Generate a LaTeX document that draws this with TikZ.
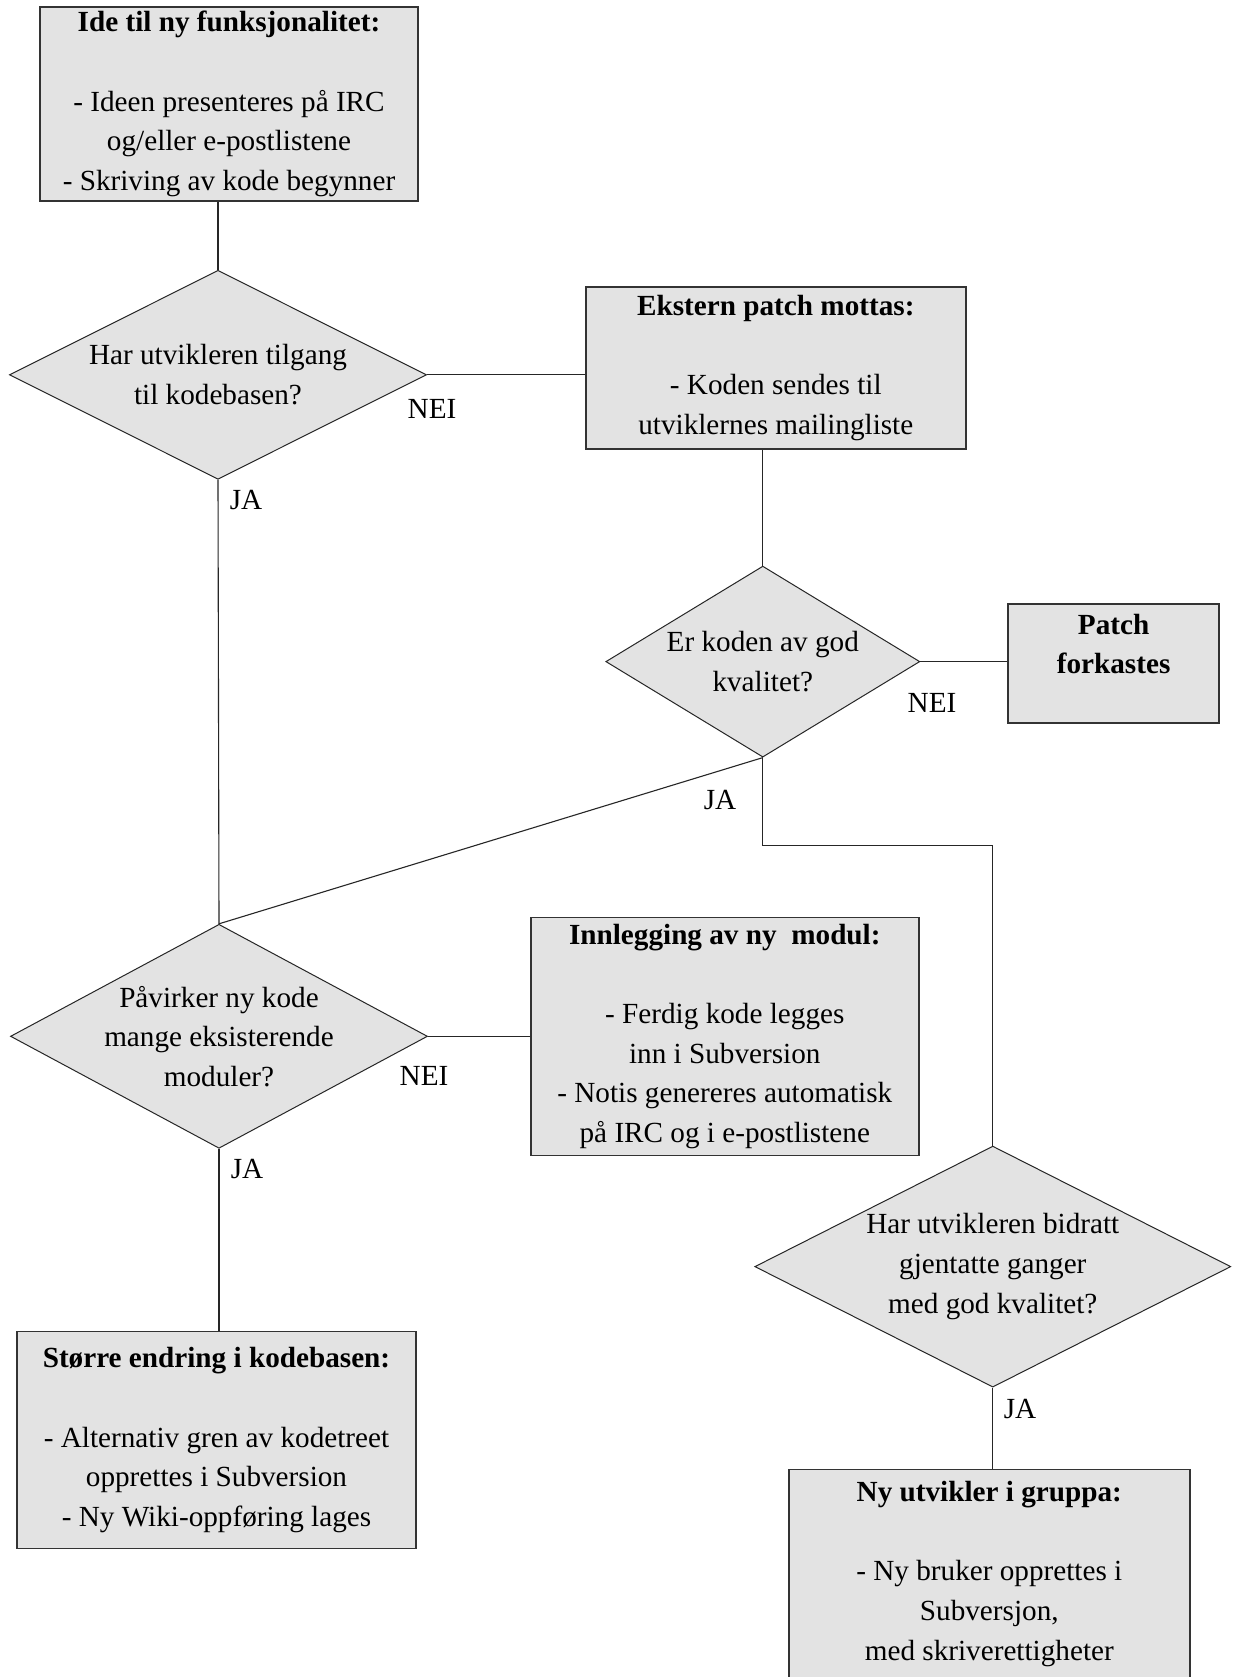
\documentclass[tikz,border=0pt]{standalone}
\usepackage{fontspec}
\setmainfont{Liberation Serif}
\usepackage{xcolor}
\usepackage{tikz}
\usetikzlibrary{shapes.geometric, positioning}

\begin{document}
\begin{tikzpicture}[x=0.5pt, y=-0.5pt,
    font=\fontsize{14.6}{19.8}\selectfont,
    boks/.style={rectangle, draw=black!80, line width=0.8pt, fill=black!11, inner sep=0pt, align=center},
    valg/.style={diamond, draw=black!85, line width=0.5pt, fill=black!11, inner sep=-2pt, align=center},
    svar/.style={inner sep=0pt},
    linje/.style={draw=black!85, line width=0.55pt}]
\useasboundingbox[fill=white] (0,0) rectangle (1233,1677);
% Bokser og valg
\node[boks, minimum width=189pt, minimum height=97pt] (ide) at (229,104)
  {\textbf{Ide til ny funksjonalitet:}\\[20pt] - Ideen presenteres på IRC\\ og/eller e-postlistene\\ - Skriving av kode begynner};
\node[valg, aspect=2, minimum width=208.5pt, minimum height=104.5pt, below=34pt of ide, xshift=-5.5pt] (tilgang)
  {Har utvikleren tilgang\\ til kodebasen?};
\node[boks, minimum width=190pt, minimum height=81pt, right=79pt of tilgang, yshift=3.5pt] (ekstern)
  {\textbf{Ekstern patch mottas:}\\[20pt] - Koden sendes til\\ utviklernes mailingliste};
\node[valg, aspect=1.64, minimum width=157pt, minimum height=95.5pt, below=58pt of ekstern, xshift=-6.5pt] (kvalitet)
  {Er koden av god\\ kvalitet?};
\node[boks, minimum width=105.5pt, minimum height=59.5pt, right=43.5pt of kvalitet, yshift=-1pt] (forkast)
  {\textbf{Patch}\\ \textbf{forkastes}\\ \mbox{}};
\node[valg, aspect=1.86, minimum width=208.5pt, minimum height=112pt, below=222pt of tilgang, xshift=0.5pt] (pavirker)
  {Påvirker ny kode\\ mange eksisterende\\ moduler?};
\node[boks, minimum width=194pt, minimum height=119pt, right=51pt of pavirker] (innlegg)
  {\textbf{Innlegging av ny~~modul:}\\[20pt] - Ferdig kode legges\\ inn i Subversion\\ - Notis genereres automatisk\\ på IRC og i e-postlistene};
\node[boks, minimum width=199.5pt, minimum height=108.5pt, below=91pt of pavirker, xshift=-1.25pt] (storre)
  {\textbf{Større endring i kodebasen:}\\[20pt] - Alternativ gren av kodetreet\\ opprettes i Subversion\\ - Ny Wiki-oppføring lages};
\node[valg, aspect=1.975, minimum width=238pt, minimum height=120.5pt, below=194pt of kvalitet, xshift=115pt] (bidratt)
  {Har utvikleren bidratt\\ gjentatte ganger\\ med god kvalitet?};
\node[boks, minimum width=200.5pt, minimum height=121pt, below=40.5pt of bidratt, xshift=-1.75pt] (nyutv)
  {\textbf{Ny utvikler i gruppa:}\\[20pt] - Ny bruker opprettes i\\ Subversjon,\\ med skriverettigheter\\ \mbox{}};
% Svar
\node[svar] (nei1) at (432,409) {NEI};
\node[svar] (ja1) at (246,500) {JA};
\node[svar] (nei2) at (932,703) {NEI};
\node[svar] (ja2) at (720,800) {JA};
\node[svar] (nei3) at (424,1076) {NEI};
\node[svar] (ja3) at (247,1169) {JA};
\node[svar] (ja4) at (1020,1409) {JA};
% Linjer
\path[linje]
(tilgang.north) edge (tilgang.north |- ide.south)
(tilgang.east) edge (tilgang.east -| ekstern.west)
(kvalitet.north) edge (kvalitet.north |- ekstern.south)
(kvalitet.east) edge (kvalitet.east -| forkast.west)
(tilgang.south) edge (pavirker.north)
(kvalitet.south) edge (pavirker.north)
(pavirker.east) edge (pavirker.east -| innlegg.west)
(pavirker.south) edge (pavirker.south |- storre.north)
(bidratt.south) edge (bidratt.south |- nyutv.north);
\draw[linje] (kvalitet.south) -- ++(0,88) -| (bidratt.north);
\end{tikzpicture}
\end{document}
